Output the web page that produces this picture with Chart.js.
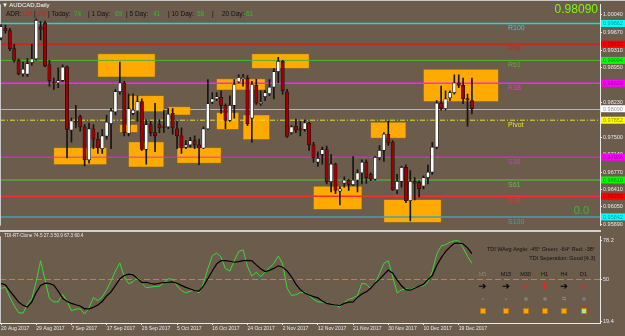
<!DOCTYPE html>
<html>
<head>
<meta charset="utf-8">
<script src="https://cdn.jsdelivr.net/npm/chart.js@4.4.1/dist/chart.umd.min.js"></script>
<style>
html, body { margin: 0; padding: 0; }
body { width: 625px; height: 336px; background: #6c5c4c; position: relative; overflow: hidden; font-family: 'Liberation Sans', Arial, sans-serif; }
canvas { position: absolute; left: 0; }
#main { top: 0; }
#tdi { top: 232px; }
.sep { position: absolute; left: 0; top: 230px; width: 601px; height: 2px; background: #d2d2d2; }
.topline { position: absolute; left: 0; top: 0; width: 625px; height: 1px; background: #c8c8c8; }
.t { position: absolute; white-space: nowrap; line-height: 1; }
.adr span { position: absolute; top: 0; white-space: nowrap; }
.c { transform: translateX(-50%); }
.dot { position: absolute; border-radius: 50%; background: #7d7a78; transform: translate(-50%, -50%); }
.sq { position: absolute; width: 4px; height: 4px; background: #ffa500; border: 0.5px solid #c07800; transform: translate(-50%, -50%); }
</style>
</head>
<body>
<canvas id="main" width="625" height="230"></canvas>
<div class="sep"></div>
<canvas id="tdi" width="625" height="104"></canvas>
<div class="topline"></div>

<div class="t" style="left:2px;top:2px;font-size:6px;color:#fff">▼ AUDCAD,Daily</div>
<div class="t adr" style="left:0;top:11px;font-size:6.5px;color:#111">
  <span style="left:6px">ADR:</span>
  <span style="left:22px;color:#e01a1a">124</span>
  <span style="left:34px">|</span>
  <span style="left:37px;color:#e01a1a">1%</span>
  <span style="left:48px">| Today:</span>
  <span style="left:74px;color:#1ec81e">74</span>
  <span style="left:88px">| 1 Day:</span>
  <span style="left:115px;color:#1ec81e">69</span>
  <span style="left:126px">| 5 Day:</span>
  <span style="left:153px;color:#1ec81e">41</span>
  <span style="left:168px">| 10 Day:</span>
  <span style="left:197px;color:#1ec81e">58</span>
  <span style="left:212px">|</span>
  <span style="left:222px">20 Day:</span>
  <span style="left:246px;color:#1ec81e">61</span>
</div>
<div class="t" id="bigPrice" style="right:27px;top:3px;font-size:12px;color:#7cfc00"></div>
<div class="t" style="right:36px;top:205px;font-size:11px;color:#38b838">0.0</div>

<div class="t" style="left:4px;top:234px;font-size:4.6px;color:#e6e6e6">TDI-RT-Clone 74.5 27.3 50.9 67.3 60.4</div>
<div class="t" style="right:30px;top:246.5px;font-size:5.5px;color:#111">TDI WAvg Angle: -45° Green: -64° Red: -38°</div>
<div class="t" style="right:30px;top:255.5px;font-size:5.5px;color:#111">TDI Seperation: Good [4.3]</div>
<div id="tfPanel"></div>

<script>
// Price scale ticks (right axis) and date ticks (bottom axis)
const priceTicks = [1.00040, 0.99670, 0.99310, 0.98950, 0.98590, 0.98230, 0.97870, 0.97500, 0.97140, 0.96770, 0.96410, 0.96050, 0.95690];
const tdiTicks = [78.2, 50, 19.4];
const dateIndex = [0, 8, 16, 24, 32, 40, 48, 56, 64, 72, 80, 88, 96, 104];
const dateLabels = ['20 Aug 2017', '29 Aug 2017', '7 Sep 2017', '17 Sep 2017', '26 Sep 2017', '5 Oct 2017', '16 Oct 2017',
    '24 Oct 2017', '2 Nov 2017', '12 Nov 2017', '21 Nov 2017', '30 Nov 2017', '10 Dec 2017', '19 Dec 2017'];

// Daily candles, bar 0 = 20 Aug 2017
const opens = [0.99560, 0.99760, 0.99714, 0.99340, 0.99094, 0.98814, 0.98810, 0.99046, 0.99126, 0.99780,
    0.99874, 0.99000, 0.98640, 0.98626, 0.98680, 0.98960, 0.97646, 0.97830, 0.97926, 0.97714,
    0.97026, 0.97674, 0.97460, 0.97260, 0.97520, 0.97780, 0.98026, 0.98446, 0.98626, 0.97580,
    0.97994, 0.98046, 0.98240, 0.97246, 0.97760, 0.97594, 0.97760, 0.97714, 0.97714, 0.97994,
    0.97674, 0.97526, 0.97294, 0.97340, 0.97426, 0.97340, 0.97274, 0.97674, 0.98226, 0.98294,
    0.98326, 0.98160, 0.97846, 0.98160, 0.98646, 0.98714, 0.98720, 0.97894, 0.98574, 0.98194,
    0.98340, 0.98406, 0.98540, 0.98860, 0.99074, 0.98440, 0.97594, 0.97726, 0.97674, 0.97660,
    0.97794, 0.97340, 0.96980, 0.97140, 0.97240, 0.96574, 0.96940, 0.96380, 0.96546, 0.96606,
    0.96514, 0.96606, 0.96760, 0.96980, 0.96726, 0.96626, 0.97074, 0.97226, 0.97560, 0.97394,
    0.96406, 0.96580, 0.96874, 0.96180, 0.96580, 0.96560, 0.96480, 0.96660, 0.96774, 0.97294,
    0.98206, 0.98094, 0.98314, 0.98426, 0.98626, 0.98574, 0.98300, 0.98260];
const highs = [0.99840, 0.99826, 0.99760, 0.99426, 0.99126, 0.99060, 0.99140, 0.99426, 0.99960, 0.99900,
    0.99910, 0.99094, 0.98726, 0.98940, 0.99000, 0.98980, 0.97894, 0.98160, 0.97960, 0.97760,
    0.97794, 0.97760, 0.97594, 0.97660, 0.97960, 0.98100, 0.98494, 0.99060, 0.98660, 0.98394,
    0.98400, 0.98360, 0.98294, 0.97860, 0.97826, 0.98200, 0.97860, 0.98060, 0.98094, 0.98094,
    0.97826, 0.97694, 0.97426, 0.97494, 0.97526, 0.97460, 0.97714, 0.98694, 0.98426, 0.98426,
    0.98460, 0.98194, 0.98360, 0.98694, 0.98794, 0.98806, 0.98780, 0.98660, 0.98700, 0.98460,
    0.98474, 0.98694, 0.98926, 0.99160, 0.99094, 0.98494, 0.97740, 0.97874, 0.97826, 0.97860,
    0.97806, 0.97394, 0.97194, 0.97294, 0.97314, 0.97140, 0.96960, 0.96474, 0.96674, 0.96626,
    0.97094, 0.96826, 0.97026, 0.97026, 0.96760, 0.97094, 0.97326, 0.97594, 0.97826, 0.97426,
    0.96726, 0.96894, 0.96926, 0.96806, 0.96660, 0.96594, 0.96694, 0.96926, 0.97394, 0.98260,
    0.98560, 0.98460, 0.98460, 0.98794, 0.98794, 0.98726, 0.98394, 0.98726];
const lows = [0.99520, 0.99660, 0.99294, 0.99060, 0.98794, 0.98760, 0.98760, 0.98994, 0.99100, 0.99520,
    0.98960, 0.98560, 0.98494, 0.98526, 0.98660, 0.97066, 0.97394, 0.97694, 0.97626, 0.96900,
    0.96960, 0.97260, 0.97160, 0.97160, 0.97460, 0.97260, 0.97960, 0.98394, 0.97526, 0.97526,
    0.97960, 0.97826, 0.97226, 0.96940, 0.97526, 0.97200, 0.97594, 0.97600, 0.97674, 0.97560,
    0.97260, 0.97160, 0.97260, 0.97294, 0.97260, 0.96926, 0.97260, 0.97660, 0.98194, 0.98260,
    0.97994, 0.97674, 0.97826, 0.97894, 0.98626, 0.98560, 0.97740, 0.97394, 0.98180, 0.98160,
    0.98260, 0.98360, 0.98294, 0.98626, 0.98394, 0.97494, 0.97560, 0.97594, 0.97526, 0.97626,
    0.97226, 0.96980, 0.96894, 0.96940, 0.96526, 0.96360, 0.96326, 0.96094, 0.96460, 0.96394,
    0.96494, 0.96360, 0.96526, 0.96540, 0.96594, 0.96606, 0.97026, 0.96994, 0.97326, 0.96394,
    0.96326, 0.96460, 0.96140, 0.95760, 0.96194, 0.96260, 0.96426, 0.96526, 0.96726, 0.97260,
    0.98060, 0.98060, 0.98260, 0.98394, 0.98526, 0.98194, 0.97726, 0.97980];
const closes = [0.99794, 0.99714, 0.99340, 0.99094, 0.98814, 0.98914, 0.99026, 0.99126, 0.99926, 0.99740,
    0.98980, 0.98674, 0.98620, 0.98674, 0.98954, 0.97660, 0.97840, 0.97810, 0.97714, 0.97026,
    0.97674, 0.97460, 0.97274, 0.97526, 0.97810, 0.98040, 0.98446, 0.98626, 0.97594, 0.98094,
    0.98060, 0.98240, 0.97246, 0.97760, 0.97594, 0.97526, 0.97694, 0.97700, 0.97980, 0.97694,
    0.97526, 0.97274, 0.97340, 0.97426, 0.97340, 0.97274, 0.97674, 0.98194, 0.98294, 0.98340,
    0.98160, 0.97846, 0.98160, 0.98594, 0.98740, 0.98740, 0.97780, 0.98594, 0.98206, 0.98226,
    0.98426, 0.98540, 0.98860, 0.99074, 0.98460, 0.97514, 0.97714, 0.97646, 0.97646, 0.97794,
    0.97340, 0.97074, 0.97060, 0.97240, 0.96574, 0.96940, 0.96394, 0.96426, 0.96606, 0.96514,
    0.96606, 0.96760, 0.96980, 0.96660, 0.96626, 0.97080, 0.97226, 0.97560, 0.97380, 0.96406,
    0.96580, 0.96874, 0.96180, 0.96580, 0.96546, 0.96426, 0.96660, 0.96774, 0.97294, 0.98206,
    0.98094, 0.98294, 0.98426, 0.98626, 0.98574, 0.98294, 0.98270, 0.98090];

// Supply / demand zones (bar index range, price range)
const zoneFrom = [22, 12, 29, 27, 29, 38, 40, 49, 49, 55, 57, 71, 84, 87, 96];
const zoneTo = [35, 24, 37, 31, 37, 43, 50, 60, 54, 61, 70, 82, 92, 100, 113];
const zoneTop = [0.9923, 0.9728, 0.9836, 0.9776, 0.9740, 0.9813, 0.9728, 0.9871, 0.9801, 0.9796, 0.9923, 0.9648, 0.9781, 0.9620, 0.9891];
const zoneBottom = [0.9875, 0.9693, 0.9803, 0.9760, 0.9688, 0.9796, 0.9696, 0.9848, 0.9766, 0.9745, 0.9893, 0.9600, 0.9748, 0.9573, 0.9824];

// Pivot levels
const levelNames = ['R100', 'R78', 'R61', 'R38', 'Pivot', 'S38', 'S61', 'S78', 'S100'];
const levelValues = [0.99862, 0.99432, 0.99094, 0.98620, 0.97852, 0.97084, 0.96610, 0.96272, 0.95842];
const levelColors = ['#22d6d6', '#c42a1e', '#4cb82e', '#ff22ff', '#e6e034', '#d436d4', '#52c83e', '#ff2a2a', '#3ca6a6'];
const levelTagColors = ['#00ffff', '#ff0000', '#00ff00', '#ff00ff', '#ffff00', '#ff00ff', '#00ff00', '#ff0000', '#00ffff'];
const levelWidths = [1.5, 2, 1, 1.5, 1, 1, 1, 1.5, 1.5];

// TDI indicator lines
const tdiGreen = [43.3, 44.0, 36.9, 30.6, 25.5, 25.2, 31.6, 35.8, 48.2, 63.4,
    49.4, 35.8, 33.4, 33.4, 38.8, 33.9, 26.9, 28.1, 28.3, 24.5,
    29.2, 36.5, 34.4, 36.9, 42.3, 48.7, 55.9, 61.8, 51.7, 46.6,
    48.0, 51.5, 47.0, 43.7, 44.2, 44.7, 44.7, 47.3, 50.3, 49.8,
    45.1, 41.6, 40.0, 41.2, 41.9, 40.0, 47.0, 57.6, 66.9, 69.0,
    66.2, 57.6, 55.9, 63.4, 70.0, 71.4, 59.2, 52.2, 55.0, 51.7,
    55.2, 58.3, 61.5, 66.9, 61.1, 43.5, 38.1, 38.6, 40.2, 40.5,
    38.1, 35.3, 33.4, 33.2, 32.7, 31.3, 31.1, 29.5, 33.0, 35.3,
    36.3, 38.1, 47.0, 46.3, 43.0, 47.0, 54.0, 61.5, 63.4, 51.7,
    40.0, 42.1, 43.0, 42.3, 43.7, 44.9, 45.2, 48.0, 55.7, 68.1,
    74.2, 75.1, 76.8, 77.9, 77.9, 72.8, 66.5, 61.5];
const tdiSignal = [46.8, 45.8, 41.4, 37.4, 33.2, 30.9, 29.7, 33.4, 40.2, 45.4,
    47.0, 46.8, 45.6, 41.2, 36.0, 33.7, 32.3, 31.3, 30.4, 28.3,
    28.3, 29.5, 31.1, 33.7, 37.7, 40.7, 45.4, 50.1, 52.6, 53.6,
    53.1, 50.5, 47.5, 47.7, 46.8, 46.3, 47.0, 47.5, 47.7, 48.0,
    47.0, 45.4, 44.0, 42.8, 41.6, 41.2, 45.1, 50.3, 55.9, 61.1,
    63.4, 63.4, 63.0, 62.3, 62.7, 63.4, 63.6, 63.4, 60.4, 57.6,
    55.5, 56.4, 57.8, 59.7, 58.7, 55.9, 51.7, 46.3, 42.3, 39.8,
    38.4, 37.2, 36.3, 34.1, 32.3, 31.6, 31.1, 30.6, 32.3, 33.2,
    33.4, 36.7, 39.1, 40.7, 43.3, 47.0, 49.8, 53.3, 56.6, 54.3,
    49.4, 45.1, 42.3, 41.9, 43.3, 44.9, 46.3, 49.6, 52.6, 59.9,
    65.5, 70.0, 73.3, 76.1, 76.3, 75.6, 72.8, 68.5];
const tdiMid = 50;

// Multi-timeframe status panel
const tfNames = ['M5', 'M15', 'M30', 'H1', 'H4', 'D1'];
const tfArrows = ['➔', '➔', '➘', '⬇', '➔', '➘'];
const tfArrowColors = ['#000', '#000', '#ff1a1a', '#ff1a1a', '#000', '#ff1a1a'];
const tfBoxColors = ['#ffa500', '#ffa500', '#ffa500', '#ffa500', '#ffa500', '#98f098'];

const xMin = -0.23, xMax = 136.1;
const yMin = 0.9566, yMax = 1.0026;
const FONT = "'Liberation Sans', Arial, sans-serif";
const AXIS_TEXT = '#e8e8e8';

const bid = closes[closes.length - 1];
document.getElementById('bigPrice').textContent = bid.toFixed(5);

// status panel (html text)
const tfX = [482.5, 506, 525.5, 544.5, 564, 583.5];
const tfDots = [2, 2, 4, 4, 0, 4];
let panel = '';
tfNames.forEach((n, k) => {
    const x = tfX[k];
    panel += `<div class="t c" style="left:${x}px;top:272px;font-size:5.5px;color:${k === 0 ? '#8e8272' : '#111'}">${n}</div>`;
    panel += `<div class="t c" style="left:${x}px;top:281px;font-size:9.5px;font-weight:bold;font-family:'DejaVu Sans';color:${tfArrowColors[k]}">${tfArrows[k]}</div>`;
    if (tfDots[k]) {
        panel += `<div class="dot" style="left:${x}px;top:299px;width:${tfDots[k]}px;height:${tfDots[k]}px"></div>`;
    } else {
        panel += `<div class="t c" style="left:${x}px;top:296px;font-size:5px;color:#8e8478">⇆</div>`;
    }
    panel += `<div class="sq" style="left:${x}px;top:311px;background:${tfBoxColors[k]}"></div>`;
});
document.getElementById('tfPanel').innerHTML = panel;

const idx = opens.map((_, i) => i);
const bodyData = idx.map(i => ({ x: i, y: [Math.min(opens[i], closes[i]), Math.max(opens[i], closes[i])] }));
const wickData = idx.map(i => ({ x: i, y: [lows[i], highs[i]] }));

// zones, pivot lines, names and price tags
const overlayPlugin = {
    id: 'overlay',
    beforeDatasetsDraw(chart) {
        const { ctx, chartArea: a, scales: { x, y } } = chart;
        ctx.save();
        ctx.fillStyle = '#ffaa00';
        ctx.strokeStyle = 'rgba(120,90,40,0.7)';
        ctx.lineWidth = 0.6;
        for (let k = 0; k < zoneFrom.length; k++) {
            const x1 = x.getPixelForValue(zoneFrom[k]), x2 = x.getPixelForValue(zoneTo[k]);
            const y1 = y.getPixelForValue(zoneTop[k]), y2 = y.getPixelForValue(zoneBottom[k]);
            ctx.fillRect(x1, y1, x2 - x1, y2 - y1);
            ctx.strokeRect(x1, y1, x2 - x1, y2 - y1);
        }
        // bid line
        ctx.strokeStyle = '#b4b4b4';
        ctx.lineWidth = 1;
        const yb = Math.round(y.getPixelForValue(bid)) + 0.5;
        ctx.beginPath(); ctx.moveTo(a.left, yb); ctx.lineTo(a.right, yb); ctx.stroke();
        levelValues.forEach((v, k) => {
            const py = y.getPixelForValue(v);
            ctx.strokeStyle = levelColors[k];
            ctx.lineWidth = levelWidths[k];
            ctx.setLineDash(levelNames[k] === 'Pivot' ? [5, 2, 1, 2] : []);
            ctx.beginPath(); ctx.moveTo(a.left, py); ctx.lineTo(a.right, py); ctx.stroke();
        });
        ctx.setLineDash([]);
        ctx.font = '7px ' + FONT;
        ctx.textBaseline = 'middle';
        levelValues.forEach((v, k) => {
            ctx.fillStyle = levelColors[k];
            ctx.fillText(levelNames[k], 508, y.getPixelForValue(v) + 5);
        });
        // left frame
        ctx.fillStyle = '#c8c8c8';
        ctx.fillRect(a.left, a.top, 1, a.bottom - a.top);
        ctx.restore();
    },
    afterDraw(chart) {
        const { ctx, chartArea: a, scales: { y } } = chart;
        ctx.save();
        ctx.font = '5.5px ' + FONT;
        ctx.textBaseline = 'middle';
        const tags = levelValues.map((v, k) => [v, levelTagColors[k]]).concat([[bid, '#ffffff']]);
        tags.forEach(([v, c]) => {
            const py = y.getPixelForValue(v);
            ctx.fillStyle = c;
            ctx.fillRect(a.right + 1, py - 3.5, 24, 7);
            ctx.fillStyle = 'rgba(0,0,0,0.45)';
            ctx.fillText(v.toFixed(5), a.right + 3, py + 0.3);
        });
        ctx.restore();
    }
};

const mainChart = new Chart(document.getElementById('main'), {
    type: 'bar',
    data: {
        datasets: [
            {
                label: 'body',
                data: bodyData,
                backgroundColor: c => closes[c.dataIndex] >= opens[c.dataIndex] ? '#ffffff' : '#a00000',
                borderColor: '#151515',
                borderWidth: 0.7,
                borderSkipped: false,
                barThickness: 3.4,
                minBarLength: 1,
                grouped: false,
                order: 1
            },
            {
                label: 'wick',
                data: wickData,
                backgroundColor: '#151515',
                barThickness: 1,
                minBarLength: 1,
                grouped: false,
                order: 2
            }
        ]
    },
    options: {
        responsive: false,
        animation: false,
        layout: { padding: 0, autoPadding: false },
        plugins: { legend: { display: false }, tooltip: { enabled: false } },
        scales: {
            x: { type: 'linear', min: xMin, max: xMax, offset: false, display: false },
            y: {
                position: 'right',
                min: yMin,
                max: yMax,
                afterBuildTicks: s => { s.ticks = priceTicks.map(v => ({ value: v })); },
                afterFit: s => { s.width = 25; },
                ticks: {
                    autoSkip: false,
                    padding: 1,
                    color: AXIS_TEXT,
                    font: { family: FONT, size: 5.5 },
                    callback: v => v.toFixed(5)
                },
                grid: { drawOnChartArea: false, drawTicks: true, tickLength: 2, color: AXIS_TEXT },
                border: { display: true, color: AXIS_TEXT, width: 1 }
            }
        }
    },
    plugins: [overlayPlugin]
});

// mid line and frame of the indicator window
const tdiPlugin = {
    id: 'tdiMid',
    beforeDatasetsDraw(chart) {
        const { ctx, chartArea: a, scales: { y } } = chart;
        ctx.save();
        ctx.strokeStyle = '#b8872e';
        ctx.lineWidth = 1;
        ctx.setLineDash([6, 3]);
        const py = Math.round(y.getPixelForValue(tdiMid)) + 0.5;
        ctx.beginPath(); ctx.moveTo(a.left, py); ctx.lineTo(a.right, py); ctx.stroke();
        ctx.setLineDash([]);
        ctx.fillStyle = '#c8c8c8';
        ctx.fillRect(a.left, a.top, 1, a.bottom - a.top);
        ctx.restore();
    }
};

const tdiChart = new Chart(document.getElementById('tdi'), {
    type: 'line',
    data: {
        datasets: [
            {
                label: 'Signal',
                data: idx.map(i => ({ x: i, y: tdiSignal[i] })),
                borderColor: '#000000',
                borderWidth: 1.2,
                pointRadius: 0,
                tension: 0,
                order: 1
            },
            {
                label: 'RSI',
                data: idx.map(i => ({ x: i, y: tdiGreen[i] })),
                borderColor: '#33dd33',
                borderWidth: 1,
                pointRadius: 0,
                tension: 0,
                order: 2
            }
        ]
    },
    options: {
        responsive: false,
        animation: false,
        layout: { padding: { top: 1 }, autoPadding: false },
        plugins: { legend: { display: false }, tooltip: { enabled: false } },
        scales: {
            x: {
                type: 'linear',
                min: xMin,
                max: xMax,
                position: 'bottom',
                afterBuildTicks: s => { s.ticks = dateIndex.map(v => ({ value: v })); },
                afterFit: s => { s.height = 13; },
                ticks: {
                    autoSkip: false,
                    maxRotation: 0,
                    align: 'start',
                    padding: 1,
                    color: AXIS_TEXT,
                    font: { family: FONT, size: 5 },
                    callback: v => dateLabels[dateIndex.indexOf(v)]
                },
                grid: { drawOnChartArea: false, tickLength: 2, color: AXIS_TEXT },
                border: { display: true, color: AXIS_TEXT, width: 1 }
            },
            y: {
                position: 'right',
                min: 18.0,
                max: 81.2,
                afterBuildTicks: s => { s.ticks = tdiTicks.map(v => ({ value: v })); },
                afterFit: s => { s.width = 25; },
                ticks: {
                    autoSkip: false,
                    padding: 1,
                    color: AXIS_TEXT,
                    font: { family: FONT, size: 5.5 },
                    callback: v => String(v)
                },
                grid: { drawOnChartArea: false, tickLength: 2, color: AXIS_TEXT },
                border: { display: true, color: AXIS_TEXT, width: 1 }
            }
        }
    },
    plugins: [tdiPlugin]
});
</script>
</body>
</html>
